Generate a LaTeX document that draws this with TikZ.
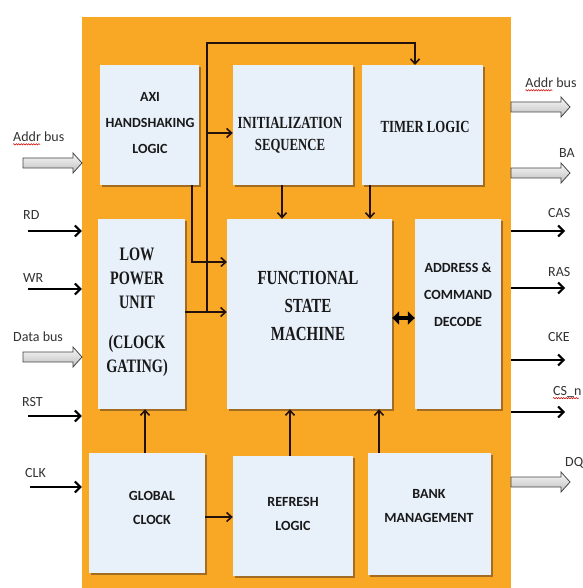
\documentclass[tikz,border=0pt]{standalone}
\usepackage{fontspec}
\setmainfont{Carlito}
\newfontfamily\serifc[FakeStretch=0.75]{Liberation Serif}
\usetikzlibrary{arrows.meta,shadows,calc,decorations.pathmorphing}
\definecolor{frameor}{RGB}{249,168,37}
\definecolor{boxfill}{RGB}{232,240,250}
\definecolor{wire}{RGB}{35,18,12}
\tikzset{
  blk/.style={fill=boxfill, draw=none, inner sep=0pt,
    drop shadow={shadow xshift=2.2pt, shadow yshift=-2.2pt, opacity=0.6, fill=brown!55!black}},
  sanst/.style={font=\fontsize{14}{24}\selectfont\bfseries, align=center, text=black!90, inner sep=0pt},
  serift/.style={font=\serifc\fontsize{17}{22}\selectfont\bfseries, align=center, text=black!90, inner sep=0pt},
  wirearr/.style={draw=wire, line width=1.6pt, -{Straight Barb[length=5pt,width=9pt]}},
  inarr/.style={draw=black, line width=2pt, -{Straight Barb[length=5.5pt,width=11pt]}},
  dblarr/.style={draw=black, line width=4pt, {Triangle[length=7pt,width=13pt]}-{Triangle[length=7pt,width=13pt]}},
  fat/.style={draw=gray!55!black, line width=0.8pt, top color=gray!5, bottom color=gray!50},
  lbl/.style={font=\fontsize{14}{16}\selectfont, text=black!80, inner sep=0pt},
  squig/.style={draw=red!80!black, line width=0.5pt, decorate, decoration={snake, amplitude=0.7pt, segment length=2.5pt}},
}
\newcommand\myfatarrow[2]{\path[fat] ($(#1)+(0,5)$) -- ($(#2)+(-9,5)$) -- ($(#2)+(-9,10)$) -- (#2) -- ($(#2)+(-9,-10)$) -- ($(#2)+(-9,-5)$) -- ($(#1)+(0,-5)$) -- cycle;}
\begin{document}
\begin{tikzpicture}[x=1pt,y=-1pt]
\useasboundingbox (0,0) rectangle (582,588);
\fill[white] (0,0) rectangle (582,588);
% frame
\node[fill=frameor, draw=none, minimum width=429pt, minimum height=575pt, inner sep=0pt] (frame) at (296.5,304.5) {};
% boxes
\node[blk, minimum width=99pt, minimum height=120pt] (axi) at (149.5,125) {};
\node[blk, minimum width=120pt, minimum height=120pt] (init) at (293,125) {};
\node[blk, minimum width=121pt, minimum height=120pt] (timer) at (422.5,125) {};
\node[blk, minimum width=87pt, minimum height=190pt] (lp) at (141.5,314) {};
\node[blk, minimum width=165pt, minimum height=190pt] (fsm) at (309.5,314) {};
\node[blk, minimum width=86pt, minimum height=190pt] (addr) at (458,314) {};
\node[blk, minimum width=116pt, minimum height=120pt] (gc) at (147,513) {};
\node[blk, minimum width=120pt, minimum height=120pt] (ref) at (293,516) {};
\node[blk, minimum width=123pt, minimum height=122pt] (bank) at (429.5,514) {};
% texts
\node[sanst, font=\fontsize{14}{26}\selectfont\bfseries] (axit) at (150,123) {AXI\\HANDSHAKING\\LOGIC};
\node[serift] (initt) at (290,135) {INITIALIZATION\\SEQUENCE};
\node[serift] (timert) at (425,127) {TIMER LOGIC};
\node[serift, font=\serifc\fontsize{19}{24}\selectfont\bfseries] (lpt) at (137,312) {LOW\\POWER\\UNIT\\[16pt](CLOCK\\GATING)};
\node[serift, font=\serifc\fontsize{20}{28}\selectfont\bfseries] (fsmt) at (308,306) {FUNCTIONAL\\STATE\\MACHINE};
\node[sanst, font=\fontsize{14}{27}\selectfont\bfseries] (addrt) at (458,295) {ADDRESS \&\\COMMAND\\DECODE};
\node[sanst] (gct) at (152,508) {GLOBAL\\CLOCK};
\node[sanst] (reft) at (293,514) {REFRESH\\LOGIC};
\node[sanst] (bankt) at (429,506) {BANK\\MANAGEMENT};
% internal connectors
\coordinate (j1) at (207,133);
\draw[wirearr] (j1) -- (j1 -| init.west);
\coordinate (axd) at (192,185);
\coordinate (f1) at (227,262);
\draw[wirearr] (axd) |- (f1);
\coordinate (lpj) at (207,312);
\draw[wirearr] (lp.east |- lpj) -- (fsm.west |- lpj);
\coordinate (topr) at (207,43);
\coordinate (tin) at (415,65);
\draw[wirearr] (lpj) -- (topr) -| (tin);
\coordinate (ix) at (282,185);
\draw[wirearr] (ix) -- (ix |- fsm.north);
\coordinate (tx) at (370,185);
\draw[wirearr] (tx) -- (tx |- fsm.north);
\coordinate (dy) at (400,318);
\draw[dblarr] (fsm.east |- dy) -- (addr.west |- dy);
\coordinate (gx) at (145,453);
\draw[wirearr] (gx) -- (gx |- lp.south);
\coordinate (gy) at (205,517);
\draw[wirearr] (gy) -- (gy -| ref.west);
\coordinate (rx) at (290,456);
\draw[wirearr] (rx) -- (rx |- fsm.south);
\coordinate (bx) at (379,453);
\draw[wirearr] (bx) -- (bx |- fsm.south);
% inputs
\coordinate (rdS) at (28,231);
\coordinate (wrS) at (28,289);
\coordinate (rstS) at (28,416);
\coordinate (clkS) at (30,487);
\foreach \c in {rdS,wrS,rstS,clkS} \draw[inarr] (\c) -- (\c -| frame.west);
% outputs
\coordinate (casE) at (565,231);
\coordinate (rasE) at (565,288);
\coordinate (ckeE) at (565,360);
\coordinate (csE) at (565,412);
\foreach \c in {casE,rasE,ckeE,csE} \draw[inarr] (\c -| frame.east) -- (\c);
% fat bus arrows
\coordinate (aLs) at (23,163); \coordinate (aLe) at (82,163);
\coordinate (dLs) at (23,357); \coordinate (dLe) at (82,357);
\coordinate (aRs) at (511,107); \coordinate (aRe) at (570,107);
\coordinate (bRs) at (511,173); \coordinate (bRe) at (570,173);
\coordinate (qRs) at (511,482); \coordinate (qRe) at (570,482);
\myfatarrow{aLs}{aLe}
\myfatarrow{dLs}{dLe}
\myfatarrow{aRs}{aRe}
\myfatarrow{bRs}{bRe}
\myfatarrow{qRs}{qRe}
% labels
\node[lbl, anchor=west] (laddr) at (13,137) {Addr bus};
\node[lbl, anchor=west] (lrd) at (23,215) {RD};
\node[lbl, anchor=west] (lwr) at (23,278) {WR};
\node[lbl, anchor=west] (ldata) at (13,337) {Data bus};
\node[lbl, anchor=west] (lrst) at (22,402) {RST};
\node[lbl, anchor=west] (lclk) at (25,473) {CLK};
\node[lbl] (raddr) at (551,83) {Addr bus};
\node[lbl] (rba) at (567,153) {BA};
\node[lbl, anchor=west] (rcas) at (548,213) {CAS};
\node[lbl, anchor=west] (rras) at (548,272) {RAS};
\node[lbl, anchor=west] (rcke) at (548,337) {CKE};
\node[lbl, anchor=west] (rcs) at (553,392) {CS\_n};
\node[lbl, anchor=west] (rdq) at (565,463) {DQ};
\draw[squig] ([yshift=-2.5pt]laddr.base west) -- ++(27,0);
\draw[squig] ([yshift=-2.5pt]raddr.base west) -- ++(27,0);
\draw[squig] ([yshift=-2.5pt]rcs.base west) -- ++(26,0);
\end{tikzpicture}
\end{document}
